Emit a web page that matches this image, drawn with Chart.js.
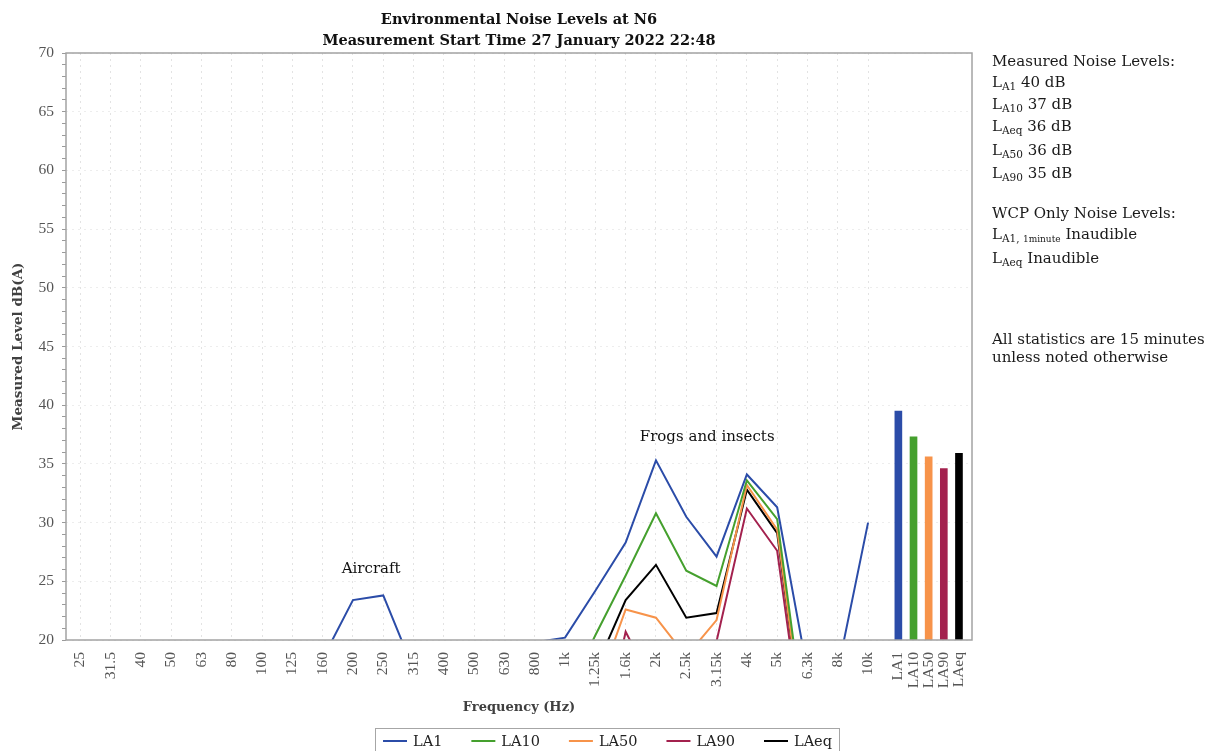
<!DOCTYPE html>
<html>
<head>
<meta charset="utf-8">
<title>Environmental Noise Levels at N6</title>
<script src="https://cdn.jsdelivr.net/npm/chart.js@4.4.1/dist/chart.umd.min.js"></script>
<style>
  html, body { margin: 0; padding: 0; background: #fff; overflow: hidden; }
  #wrap { position: relative; width: 1215px; height: 751px; }
  #c { position: absolute; left: 0; top: 0; }
  #notes { position: absolute; left: 992px; top: 0; font-family: "DejaVu Serif", serif; font-size: 15px; color: #1a1a1a; }
  #notes div { position: absolute; left: 0; white-space: nowrap; line-height: 22px; }
  #notes .sb { font-size: 10.5px; position: relative; top: 3px; }
  #notes .sbs { font-size: 9px; position: relative; top: 3px; }
</style>
</head>
<body>
<div id="wrap">
  <canvas id="c" width="1215" height="751"></canvas>
  <div id="notes"></div>
</div>
<script>
// One-third octave band centre frequencies (Hz)
const bands = ['25', '31.5', '40', '50', '63', '80', '100', '125', '160', '200', '250', '315', '400',
               '500', '630', '800', '1k', '1.25k', '1.6k', '2k', '2.5k', '3.15k', '4k', '5k', '6.3k', '8k', '10k'];

// Band levels in dB(A); anything under 20 falls below the axis floor
const la1  = [15.2, 14.8, 14.5, 14.1, 14.6, 15.0, 15.8, 16.5, 18.4, 23.4, 23.8, 17.5, 16.2, 16.8,
              17.9, 19.8, 20.2, 24.2, 28.3, 35.3, 30.5, 27.1, 34.1, 31.3, 17.3, 17.4, 30.0];
const la10 = [12.1, 11.8, 11.5, 11.2, 11.6, 12.0, 12.7, 13.4, 14.6, 16.5, 16.9, 14.2, 13.5, 14.1,
              14.9, 15.6, 15.1, 20.4, 25.5, 30.8, 25.9, 24.6, 33.6, 30.3, 11.0, 9.8, 10.5];
const la50 = [9.4, 9.1, 8.8, 8.6, 8.9, 9.3, 9.8, 10.4, 11.2, 12.3, 12.6, 10.9, 10.3, 10.8,
              11.4, 12.0, 12.2, 15.4, 22.6, 21.9, 18.6, 21.7, 33.2, 29.4, 9.8, 8.0, 7.5];
const la90 = [7.2, 7.0, 6.8, 6.6, 6.9, 7.2, 7.6, 8.0, 8.6, 9.3, 9.5, 8.4, 8.0, 8.3,
              8.7, 9.1, 8.8, 9.0, 20.7, 15.7, 15.0, 19.9, 31.2, 27.6, 8.9, 6.5, 6.2];
const laeq = [11.0, 10.7, 10.4, 10.1, 10.5, 10.9, 11.6, 12.3, 13.8, 17.2, 17.6, 13.1, 12.4, 12.9,
              13.6, 14.5, 14.3, 17.5, 23.4, 26.4, 21.9, 22.3, 32.8, 29.1, 9.6, 12.0, 17.0];

// Overall statistics for the whole measurement (dB(A))
const summaryLabels = ['LA1', 'LA10', 'LA50', 'LA90', 'LAeq'];
const summaryValues = [39.5, 37.3, 35.6, 34.6, 35.9];

const seriesNames  = ['LA1', 'LA10', 'LA50', 'LA90', 'LAeq'];
const seriesValues = [la1, la10, la50, la90, laeq];
const seriesColors = ['#2b4ca8', '#45a02e', '#f7934a', '#a3214e', '#000000'];

// Summary bars sit after the last band, at half spacing
const summaryPos = summaryLabels.map((_, i) => bands.length + i * 0.5);
const tickText = new Map();
bands.forEach((b, i) => tickText.set(i, b));
summaryLabels.forEach((s, i) => tickText.set(summaryPos[i], s));
const tickValues = Array.from(tickText.keys());

const SERIF = '"DejaVu Serif", serif';
Chart.defaults.font.family = '"Liberation Serif", serif';

const lineSets = seriesNames.map((name, k) => ({
  type: 'line',
  label: name,
  data: bands.map((_, i) => ({ x: i, y: seriesValues[k][i] })),
  borderColor: seriesColors[k],
  backgroundColor: seriesColors[k],
  borderWidth: 2,
  pointRadius: 0,
  tension: 0,
  fill: false,
  order: 1
}));

const barSet = {
  type: 'bar',
  label: 'Overall',
  data: summaryValues.map((v, i) => ({ x: summaryPos[i], y: v })),
  backgroundColor: seriesColors,
  borderWidth: 0,
  barThickness: 7,
  grouped: false,
  order: 2
};

const decorations = {
  id: 'decorations',
  afterDatasetsDraw(chart) {
    const { ctx, chartArea: a } = chart;
    ctx.save();
    ctx.strokeStyle = '#a3a3a3';
    ctx.lineWidth = 1.5;
    ctx.strokeRect(a.left, a.top, a.right - a.left, a.bottom - a.top);
    ctx.restore();
  },
  afterDraw(chart) {
    const { ctx, chartArea: a, scales } = chart;
    ctx.save();
    // Title
    const cx = (a.left + a.right) / 2;
    ctx.fillStyle = '#111';
    ctx.textAlign = 'center';
    ctx.textBaseline = 'alphabetic';
    ctx.font = 'bold 14.5px ' + SERIF;
    ctx.fillText('Environmental Noise Levels at N6', cx, 24);
    ctx.fillText('Measurement Start Time 27 January 2022 22:48', cx, 45);

    // Source annotations
    ctx.font = '15px ' + SERIF;
    ctx.fillText('Aircraft', scales.x.getPixelForValue(9.6), scales.y.getPixelForValue(25.67));
    ctx.fillText('Frogs and insects', scales.x.getPixelForValue(20.69), scales.y.getPixelForValue(36.92));

    // Legend
    ctx.font = '14.5px ' + SERIF;
    const sample = 24, sampleGap = 6, itemGap = 29;
    const widths = lineSets.map(d => sample + sampleGap + ctx.measureText(d.label).width);
    const total = widths.reduce((s, w) => s + w, 0) + itemGap * (widths.length - 1);
    let x = chart.width / 2 - total / 2;
    const ly = 741;
    ctx.strokeStyle = '#a6a6a6';
    ctx.lineWidth = 1;
    ctx.strokeRect(Math.round(x - 8.5) + 0.5, 728.5, Math.round(total + 15), 30);
    ctx.textAlign = 'left';
    ctx.textBaseline = 'middle';
    lineSets.forEach((d, i) => {
      ctx.strokeStyle = d.borderColor;
      ctx.lineWidth = 2;
      ctx.beginPath();
      ctx.moveTo(x, ly);
      ctx.lineTo(x + sample, ly);
      ctx.stroke();
      ctx.fillStyle = '#222';
      ctx.fillText(d.label, x + sample + sampleGap, ly + 1);
      x += widths[i] + itemGap;
    });
    ctx.restore();
  }
};

new Chart(document.getElementById('c'), {
  data: { datasets: [...lineSets, barSet] },
  options: {
    responsive: false,
    animation: false,
    devicePixelRatio: 1,
    layout: { padding: { top: 53, right: 243, left: 0, bottom: 0 } },
    plugins: { legend: { display: false }, title: { display: false }, tooltip: { enabled: false } },
    scales: {
      x: {
        type: 'linear',
        offset: false,
        min: -0.47,
        max: 29.43,
        afterBuildTicks(scale) { scale.ticks = tickValues.map(v => ({ value: v })); },
        afterFit(scale) { scale.height = 111; },
        ticks: {
          autoSkip: false,
          minRotation: 90,
          maxRotation: 90,
          padding: 12,
          color: '#555',
          font: { size: 15.5 },
          callback: v => tickText.has(v) ? tickText.get(v) : ''
        },
        grid: {
          offset: false,
          color: c => (c.tick && c.tick.value < bands.length ? 'rgba(0,0,0,0.11)' : 'rgba(0,0,0,0)'),
          lineWidth: 1,
          drawTicks: false
        },
        border: { display: false, dash: [2, 4] },
        title: {
          display: true,
          text: 'Frequency (Hz)',
          color: '#404040',
          font: { family: SERIF, size: 13, weight: 'bold' },
          padding: { top: 4, bottom: 36 }
        }
      },
      y: {
        min: 20,
        max: 70,
        afterFit(scale) { scale.width = 66; },
        ticks: {
          stepSize: 1,
          autoSkip: false,
          padding: 8,
          color: '#555',
          font: { size: 15.5 },
          callback: v => (v % 5 === 0 ? String(v) : '')
        },
        grid: {
          color: c => (c.tick && c.tick.value % 5 === 0 ? 'rgba(0,0,0,0.07)' : 'rgba(0,0,0,0)'),
          tickColor: '#9a9a9a',
          tickLength: 4,
          lineWidth: 1
        },
        border: { display: false, dash: [2, 4] },
        title: {
          display: true,
          text: 'Measured Level dB(A)',
          color: '#404040',
          font: { family: SERIF, size: 13.5, weight: 'bold' },
          padding: { top: 10, bottom: 4 }
        }
      }
    }
  },
  plugins: [decorations]
});

// Side notes: rounded overall levels
const level = name => Math.round(summaryValues[summaryLabels.indexOf(name)]);
const sub = s => '<span class="sb">' + s + '</span>';
const noteLines = [
  [66,  'Measured Noise Levels:'],
  [87,  'L' + sub('A1') + ' ' + level('LA1') + ' dB'],
  [109, 'L' + sub('A10') + ' ' + level('LA10') + ' dB'],
  [131, 'L' + sub('Aeq') + ' ' + level('LAeq') + ' dB'],
  [155, 'L' + sub('A50') + ' ' + level('LA50') + ' dB'],
  [178, 'L' + sub('A90') + ' ' + level('LA90') + ' dB'],
  [218, 'WCP Only Noise Levels:'],
  [239, 'L' + sub('A1, ') + '<span class="sbs">1minute</span> Inaudible'],
  [263, 'L' + sub('Aeq') + ' Inaudible'],
  [344, 'All statistics are 15 minutes'],
  [362, 'unless noted otherwise']
];
document.getElementById('notes').innerHTML =
  noteLines.map(([base, html]) => '<div style="top:' + (base - 16.5) + 'px">' + html + '</div>').join('');
</script>
</body>
</html>
